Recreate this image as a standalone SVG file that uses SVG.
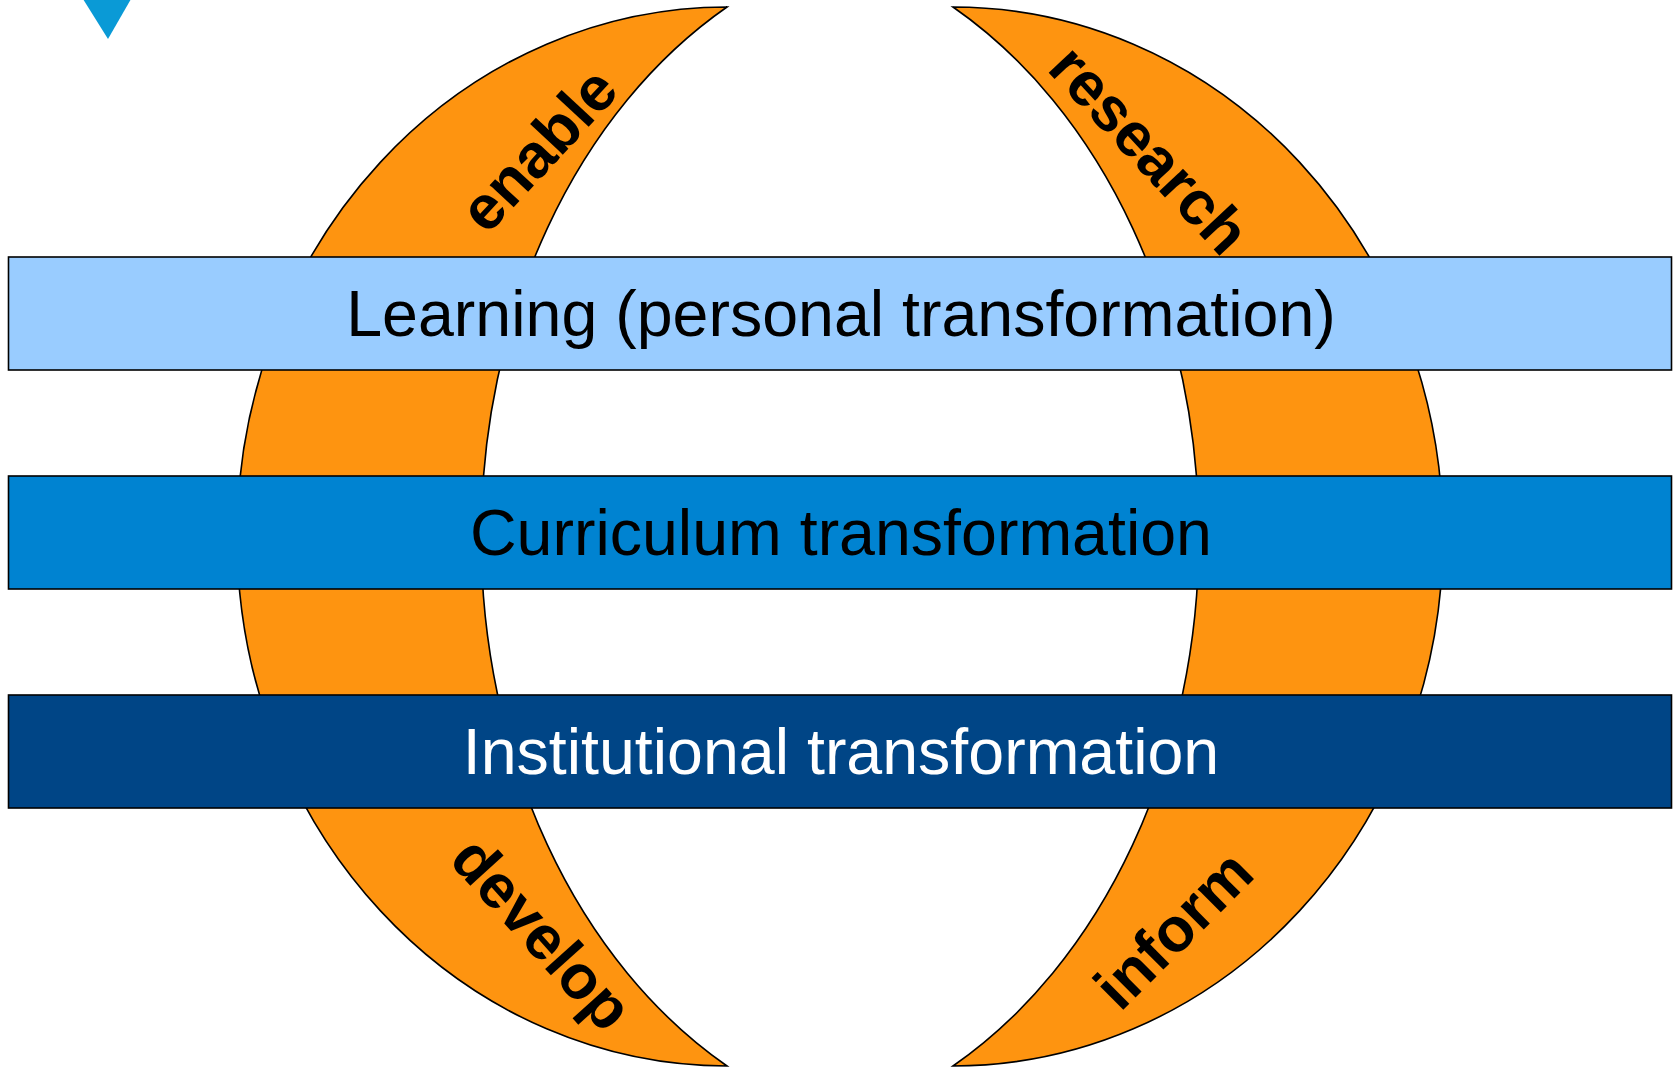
<svg xmlns="http://www.w3.org/2000/svg" width="1673" height="1067" viewBox="0 0 1673 1067">
<style>
.moon{fill:#fe9410;stroke:#000;stroke-width:1.6}
.bar{stroke:#000;stroke-width:1.6}
.lbl{font-family:"Liberation Sans",Arial,sans-serif;font-size:64.5px;text-anchor:middle}
.verb{font-family:"Liberation Sans",Arial,sans-serif;font-size:62px;font-weight:bold;text-anchor:middle;fill:#000}
</style>
<rect width="1673" height="1067" fill="#fff"/>
<g id="marker-triangle"><polygon points="83,-1 131,-1 108,39" fill="#0a9ad6"/></g>
<g id="crescent-left">
<path class="moon" d="M727,7 A490,529.5 0 0 0 727,1066 A469,602 0 0 1 727,7 Z"/>
</g>
<g id="crescent-right">
<path class="moon" transform="translate(1680,0) scale(-1,1)" d="M727,7 A490,529.5 0 0 0 727,1066 A469,602 0 0 1 727,7 Z"/>
</g>
<g id="connectors"></g>
<g id="bar-learning">
<rect class="bar" x="8.5" y="257" width="1663" height="113" fill="#99ccff"/>
<text class="lbl" x="841" y="336" fill="#000">Learning (personal transformation)</text>
</g>
<g id="bar-curriculum">
<rect class="bar" x="8.5" y="476" width="1663" height="113" fill="#0083d1"/>
<text class="lbl" x="841" y="555" fill="#000">Curriculum transformation</text>
</g>
<g id="bar-institutional">
<rect class="bar" x="8.5" y="695" width="1663" height="113" fill="#004586"/>
<text class="lbl" x="841" y="774" fill="#fff">Institutional transformation</text>
</g>
<g id="label-enable"><text class="verb" transform="translate(538,149) rotate(-47)" x="0" y="22">enable</text></g>
<g id="label-research"><text class="verb" transform="translate(1150,149) rotate(47)" x="0" y="22">research</text></g>
<g id="label-develop"><text class="verb" transform="translate(538,937) rotate(48)" x="0" y="16">develop</text></g>
<g id="label-inform"><text class="verb" transform="translate(1173,929) rotate(-45)" x="0" y="22">inform</text></g>
</svg>
